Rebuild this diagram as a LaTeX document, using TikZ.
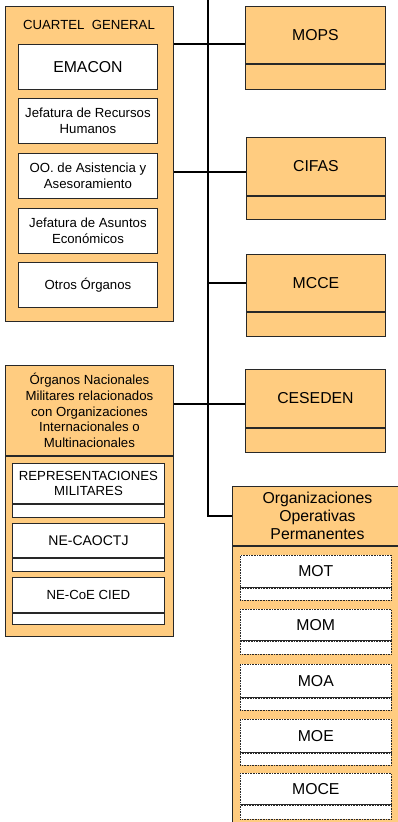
\documentclass[tikz,border=0pt]{standalone}
\usepackage{fontspec}
\setmainfont{Liberation Sans}
\usetikzlibrary{calc}
\definecolor{org}{RGB}{255,204,128}
\definecolor{lc}{RGB}{40,40,40}
\newcommand\fs{\fontsize{13.2}{15.6}\selectfont}
\newcommand\fb{\fontsize{15.8}{18.3}\selectfont}
\tikzset{
  orb/.style={draw=lc, fill=org, line width=0.9pt, anchor=north west, inner sep=0pt, align=center, font=\fs},
  wb/.style={draw=lc, fill=white, line width=0.9pt, anchor=north west, inner sep=0pt, align=center, font=\fs},
  db/.style={draw=lc, fill=white, line width=0.6pt, densely dotted, anchor=north west, inner sep=0pt, align=center, font=\fb},
  conn/.style={line width=1.5pt, black},
  divl/.style={draw=lc, line width=0.9pt}
}
\newcommand\mysplit[8]{%
  \node[#2, minimum width=#5pt, minimum height=#6pt] (#1) at (#3,#4) {#8};
  \node[#2, minimum width=#5pt, minimum height=#7pt] (#1b) at (#1.south west) {};
}
\begin{document}
\begin{tikzpicture}[x=1pt,y=-1pt]
\useasboundingbox (0,0) rectangle (398,822);
% Cuartel General
\node[orb, minimum width=168pt, minimum height=315pt] (cg) at (5,6) {};
\node[font=\fs, inner sep=0pt] (cgt) at (89,25) {CUARTEL~ GENERAL};
\node[wb, font=\fb, minimum width=139pt, minimum height=45pt] (emacon) at (18,44) {EMACON};
\node[wb, minimum width=139pt, minimum height=45pt] (jrh) at (18,98) {Jefatura de Recursos\\Humanos};
\node[wb, minimum width=139pt, minimum height=45pt] (oo) at (18,153) {OO. de Asistencia y\\Asesoramiento};
\node[wb, minimum width=139pt, minimum height=45pt] (jae) at (18,208) {Jefatura de Asuntos\\Económicos};
\node[wb, minimum width=139pt, minimum height=45pt] (otros) at (18,262) {Otros Órganos};
% right column
\mysplit{mops}{orb,font=\fb}{245}{6}{140}{57}{25}{MOPS}
\mysplit{cifas}{orb,font=\fb}{246}{137}{139}{58}{23}{CIFAS}
\mysplit{mcce}{orb,font=\fb}{246}{254}{139}{57}{24}{MCCE}
\mysplit{ces}{orb,font=\fb}{245}{369}{140}{58}{24}{CESEDEN}
% Organos nacionales
\mysplit{orgn}{orb}{5}{365}{168}{90}{180}{Órganos Nacionales\\Militares relacionados\\con Organizaciones\\Internacionales o\\Multinacionales}
\mysplit{rep}{wb}{12}{463}{152}{40}{13}{REPRESENTACIONES\\MILITARES}
\mysplit{cao}{wb,font=\fontsize{14}{16}\selectfont}{12}{523}{152}{34}{13}{NE-CAOCTJ}
\mysplit{cied}{wb}{12}{577}{152}{35}{11}{NE-CoE CIED}
% Organizaciones operativas permanentes
\mysplit{oop}{orb,font=\fb}{232}{486}{170}{59}{290}{Organizaciones\\Operativas\\Permanentes}
\mysplit{mot}{db}{240}{555}{151}{32}{12}{MOT}
\mysplit{mom}{db}{240}{609}{151}{31}{13}{MOM}
\mysplit{moa}{db}{240}{664}{151}{33}{12}{MOA}
\mysplit{moe}{db}{240}{719}{151}{33}{12}{MOE}
\mysplit{moce}{db}{240}{773}{151}{31}{14}{MOCE}
\foreach \n in {mot,mom,moa,moe,moce}{\draw[divl] (\n.south west) -- (\n.south east);}
% connectors
\coordinate (bt) at (208,0);
\draw[conn] (bt) -- (bt |- oop.west) -- (oop.west);
\draw[conn] (cg.north east) ++(0,38) coordinate (k1) -- (k1 -| mops.west);
\draw[conn] (cg.north east) ++(0,166) coordinate (k2) -- (k2 -| cifas.west);
\draw[conn] (mcce.west -| bt) -- (mcce.west);
\draw[conn] (orgn.north east) ++(0,39) coordinate (k3) -- (k3 -| ces.west);
\end{tikzpicture}
\end{document}
